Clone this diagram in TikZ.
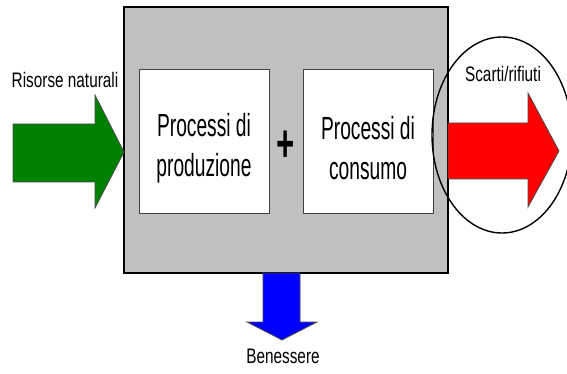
\documentclass[tikz,border=0pt]{standalone}
\usepackage{fontspec}
\newfontfamily\narrowsans[FakeStretch=0.6]{Liberation Sans}
\newfontfamily\labelsans[FakeStretch=0.73]{Liberation Sans}
\usetikzlibrary{shapes.geometric}
\definecolor{sysgray}{RGB}{192,192,192}
\definecolor{resgreen}{RGB}{0,128,0}
\begin{document}
\begin{tikzpicture}[x=1pt, y=-1pt,
    every node/.style={inner sep=0},
    procbox/.style={draw=black!75, fill=white, line width=0.8pt, minimum width=130, minimum height=144},
    proctext/.style={align=center, font=\narrowsans\fontsize{32}{40}\selectfont},
    flowlabel/.style={font=\labelsans\fontsize{21}{24}\selectfont},
    bigarrow/.style={draw=black!70, line width=0.8pt}]
    \useasboundingbox (0,0) rectangle (567,374);

    \draw(286, 140) node [draw, line width=1.4pt, fill=sysgray, minimum width=324, minimum height=266](sys){};

    \draw(204, 141) node [procbox](prod){};
    \draw(368, 141) node [procbox](cons){};
    \draw(204, 148) node [proctext](prodtext){Processi di\\produzione};
    \draw(368, 148) node [proctext](constext){Processi di\\consumo};
    \draw(286, 146) node [font=\narrowsans\bfseries\fontsize{52}{52}\selectfont](plus){+};

    % flows in and out
    \filldraw[bigarrow, fill=resgreen] (13,124) -- (95,124) -- (95,95) -- (124,152) -- (95,208) -- (95,182) -- (13,182) -- cycle;
    \filldraw[bigarrow, fill=red] (448,123) -- (528,123) -- (528,93) -- (559,151) -- (528,207) -- (528,179) -- (448,179) -- cycle;
    \filldraw[bigarrow, fill=blue] (263,273) -- (263,322) -- (247,322) -- (282,340) -- (317,322) -- (300,322) -- (300,273) -- cycle;

    \draw(502, 135) node [ellipse, draw, line width=1.4pt, minimum width=140, minimum height=196](waste){};

    \draw(65, 80) node [flowlabel](res){Risorse naturali};
    \draw(503, 74) node [flowlabel](scarti){Scarti/rifiuti};
    \draw(283, 356) node [flowlabel](ben){Benessere};
\end{tikzpicture}
\end{document}
